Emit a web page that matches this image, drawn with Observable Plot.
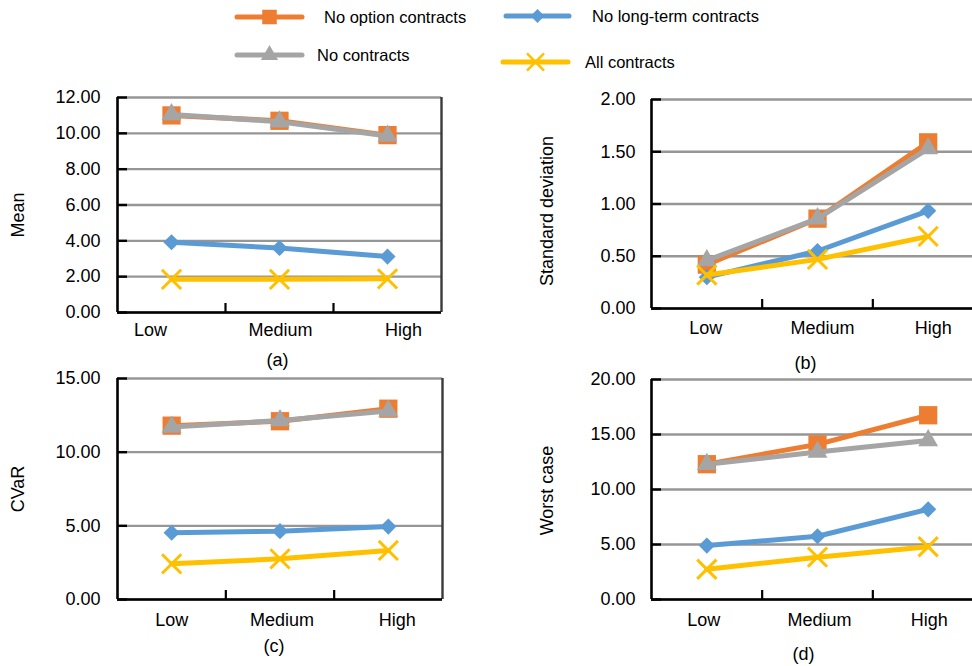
<!DOCTYPE html>
<html><head><meta charset="utf-8">
<script src="https://cdn.jsdelivr.net/npm/d3@7"></script>
<script src="https://cdn.jsdelivr.net/npm/@observablehq/plot@0.6"></script>
<style>
html,body{margin:0;padding:0;overflow:hidden;background:#fff}
#root{position:relative;width:972px;height:666px;overflow:hidden;font-family:"Liberation Sans",Arial,sans-serif;color:#000}
.panel{position:absolute}
.legtext{position:absolute;font-size:16.5px;line-height:20px;white-space:nowrap}
.legsym{position:absolute;overflow:visible}
</style></head><body><div id="root"></div>
<script>
// ---------- data ----------
const categories = ["Low", "Medium", "High"];
const seriesNames = ["No option contracts", "No long-term contracts", "No contracts", "All contracts"];

const meanNoOption    = [11.00, 10.70, 9.90];
const meanNoLongTerm  = [3.92, 3.60, 3.12];
const meanNoContracts = [11.05, 10.65, 9.85];
const meanAll         = [1.85, 1.85, 1.88];

const sdNoOption    = [0.42, 0.86, 1.59];
const sdNoLongTerm  = [0.30, 0.55, 0.935];
const sdNoContracts = [0.46, 0.86, 1.53];
const sdAll         = [0.32, 0.47, 0.69];

const cvarNoOption    = [11.80, 12.10, 12.95];
const cvarNoLongTerm  = [4.53, 4.64, 4.95];
const cvarNoContracts = [11.70, 12.15, 12.80];
const cvarAll         = [2.42, 2.76, 3.33];

const worstNoOption    = [12.30, 14.10, 16.75];
const worstNoLongTerm  = [4.90, 5.75, 8.20];
const worstNoContracts = [12.30, 13.40, 14.45];
const worstAll         = [2.75, 3.85, 4.80];

const meanTicks  = [0, 2, 4, 6, 8, 10, 12];
const sdTicks    = [0, 0.5, 1, 1.5, 2];
const cvarTicks  = [0, 5, 10, 15];
const worstTicks = [0, 5, 10, 15, 20];

// ---------- style ----------
const colors  = ["#ED7D31", "#5B9BD5", "#A5A5A5", "#FFC000"];
const symbols = ["square", "diamond2", "triangle", "times"];
const symR    = [10.3, 7.3, 7.4, 8.8];
const FONT = "'Liberation Sans', Arial, sans-serif";
const FS = 18;

const root = document.getElementById("root");

function panel(cfg) {
  const rows = [];
  cfg.series.forEach((vals, s) => vals.forEach((v, i) =>
    rows.push({series: seriesNames[s], s, cat: categories[i], xi: i + 0.5, v})));
  const marks = [
    Plot.gridY(cfg.ticks, {stroke: "#969696", strokeWidth: 2.4, strokeOpacity: 1}),
    Plot.ruleX([3], {stroke: "#3a3a3a", strokeWidth: 2.4}),
    Plot.ruleX([0], {stroke: "#000", strokeWidth: 2.6}),
    Plot.ruleY([0], {stroke: "#000", strokeWidth: 2.6}),
    Plot.axisY(cfg.ticks, {tickSize: 0, tickPadding: cfg.pad, tickFormat: d3.format(".2f"),
      fontSize: FS, label: null, fill: "#000"}),
    Plot.axisY(cfg.ticks, {tickSize: 10, dx: 10, fill: "none", stroke: "#000", strokeWidth: 2.4, label: null}),
    Plot.axisX([1, 2], {tickSize: 9, dy: -9, fill: "none", stroke: "#000", strokeWidth: 2.2, label: null}),
    ...categories.map((c, i) => Plot.text([c], {x: () => i + 0.5, frameAnchor: "bottom",
      dy: cfg.labelDy, dx: cfg.labelDx[i], lineAnchor: "middle", fontSize: FS, fill: "#000"})),
    Plot.text([cfg.ylabel], {frameAnchor: "left", dx: cfg.ylabelDx, dy: cfg.ylabelDy, rotate: -90,
      textAnchor: "middle", lineAnchor: "middle", fontSize: FS, fill: "#000"}),
    Plot.text([cfg.caption], {frameAnchor: "bottom", dx: cfg.capDx, dy: cfg.capDy,
      lineAnchor: "middle", fontSize: FS, fill: "#000"})
  ];
  seriesNames.forEach((name, s) => {
    const data = rows.filter(d => d.s === s);
    marks.push(Plot.line(data, {x: "xi", y: "v", stroke: colors[s], strokeWidth: 5,
      strokeLinejoin: "round", strokeLinecap: "round"}));
    if (symbols[s] === "times") {
      marks.push(Plot.dot(data, {x: "xi", y: "v", symbol: "times", r: symR[s], stroke: colors[s], strokeWidth: 3, fill: "none"}));
    } else {
      marks.push(Plot.dot(data, {x: "xi", y: "v", symbol: symbols[s], r: symR[s], fill: colors[s], stroke: "none"}));
    }
  });
  const svg = Plot.plot({
    width: cfg.w, height: cfg.h,
    marginLeft: cfg.ml, marginRight: cfg.mr, marginTop: cfg.mt, marginBottom: cfg.mb,
    x: {domain: [0, 3], axis: null},
    y: {domain: cfg.domain, axis: null},
    style: {fontFamily: FONT, fontSize: FS + "px", color: "#000", background: "transparent", overflow: "visible"},
    marks
  });
  svg.classList.add("panel");
  svg.style.left = cfg.left + "px";
  svg.style.top = cfg.top + "px";
  root.appendChild(svg);
}

panel({series: [meanNoOption, meanNoLongTerm, meanNoContracts, meanAll], ticks: meanTicks, domain: [0, 12],
  left: 0, top: 80, w: 470, h: 295, ml: 117, mr: 29, mt: 17, mb: 63, pad: 17,
  labelDy: 18, labelDx: [-21, 1, 16], ylabel: "Mean", ylabelDx: -99, ylabelDy: 10,
  caption: "(a)", capDx: -2, capDy: 48});

panel({series: [sdNoOption, sdNoLongTerm, sdNoContracts, sdAll], ticks: sdTicks, domain: [0, 2],
  left: 520, top: 80, w: 480, h: 295, ml: 131, mr: 17, mt: 19, mb: 67, pad: 16,
  labelDy: 20, labelDx: [-1, 5, 5], ylabel: "Standard deviation", ylabelDx: -104, ylabelDy: 7,
  caption: "(b)", capDx: -12, capDy: 55});

panel({series: [cvarNoOption, cvarNoLongTerm, cvarNoContracts, cvarAll], ticks: cvarTicks, domain: [0, 15],
  left: 0, top: 370, w: 470, h: 296, ml: 117, mr: 28, mt: 8, mb: 67, pad: 17,
  labelDy: 21, labelDx: [0, 2, 9], ylabel: "CVaR", ylabelDx: -99, ylabelDy: 0,
  caption: "(c)", capDx: -6, capDy: 47});

panel({series: [worstNoOption, worstNoLongTerm, worstNoContracts, worstAll], ticks: worstTicks, domain: [0, 20],
  left: 520, top: 370, w: 480, h: 296, ml: 131, mr: 17, mt: 9, mb: 67, pad: 16,
  labelDy: 21, labelDx: [-3, 2, 1], ylabel: "Worst case", ylabelDx: -104, ylabelDy: 1,
  caption: "(d)", capDx: -14, capDy: 55});

// ---------- legend ----------
const legendLayout = [
  {x1: 237, x2: 302, y: 17, tx: 324},
  {x1: 506, x2: 569, y: 16, tx: 592},
  {x1: 237, x2: 302, y: 55, tx: 317},
  {x1: 503, x2: 568, y: 62, tx: 585}
];
const legR = [8.2, 6.2, 6.4, 7.8];
seriesNames.forEach((name, s) => {
  const L = legendLayout[s];
  const svg = d3.create("svg").attr("class", "legsym")
    .attr("width", L.x2 - L.x1 + 20).attr("height", 30)
    .style("left", (L.x1 - 10) + "px").style("top", (L.y - 15) + "px");
  svg.append("line").attr("x1", 10).attr("x2", L.x2 - L.x1 + 10).attr("y1", 15).attr("y2", 15)
    .attr("stroke", colors[s]).attr("stroke-width", 5).attr("stroke-linecap", "round");
  const symMap = {square: d3.symbolSquare, diamond2: d3.symbolDiamond2, triangle: d3.symbolTriangle, times: d3.symbolTimes};
  const path = d3.symbol(symMap[symbols[s]], Math.PI * legR[s] * legR[s])();
  const p = svg.append("path").attr("d", path)
    .attr("transform", `translate(${(L.x2 - L.x1) / 2 + 10},15)`);
  if (symbols[s] === "times") p.attr("fill", "none").attr("stroke", colors[s]).attr("stroke-width", 2.5);
  else p.attr("fill", colors[s]);
  root.appendChild(svg.node());
  const t = document.createElement("div");
  t.className = "legtext";
  t.textContent = name;
  t.style.left = L.tx + "px";
  t.style.top = (L.y - 10) + "px";
  root.appendChild(t);
});
</script>
</body></html>
